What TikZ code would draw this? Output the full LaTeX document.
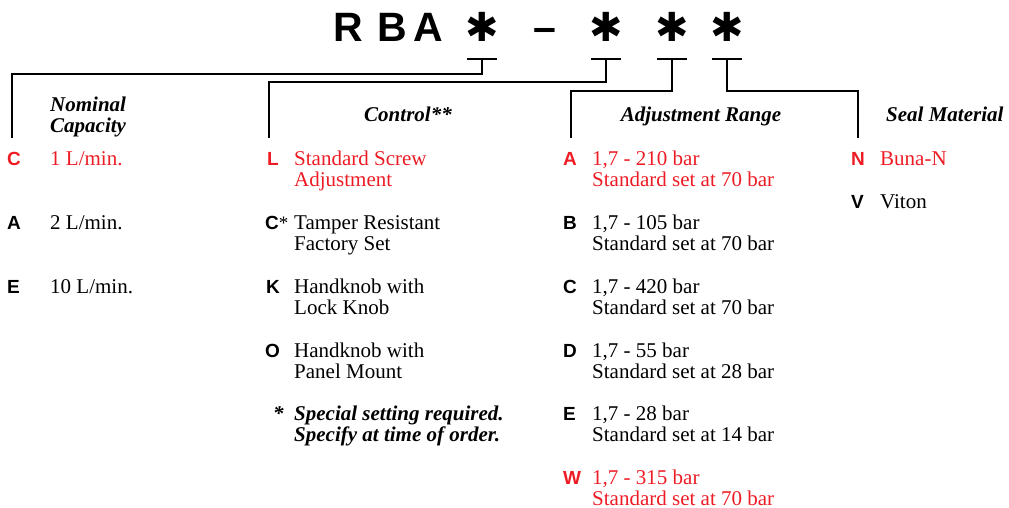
\documentclass[tikz,border=0pt]{standalone}
\usepackage{fontspec}
\setmainfont{Liberation Serif}
\setsansfont{Liberation Sans}
\newfontfamily\dingfont{DejaVu Sans}
\definecolor{optred}{RGB}{237,28,36}

\begin{document}
\begin{tikzpicture}[x=1pt, y=-1pt,
    code/.style={font=\fontsize{41}{41}\selectfont\sffamily\bfseries, inner sep=0pt, anchor=base west},
    star/.style={font=\fontsize{40}{40}\selectfont\dingfont, inner sep=0pt, anchor=base},
    lead/.style={line width=2.8pt},
    head/.style={font=\fontsize{21}{21}\selectfont\bfseries\itshape, inner sep=0pt, anchor=base west, align=left},
    key/.style={font=\fontsize{19}{20}\selectfont\sffamily\bfseries, inner sep=0pt, anchor=base west},
    desc/.style={font=\fontsize{21}{21}\selectfont, inner sep=0pt, anchor=base west, align=left},
    twoline/.style={yshift=-21pt},
    sel/.style={text=optred}]
  \useasboundingbox (0,0) rectangle (1009,508);
  % model code
  \node[code] (r) at (333, 42) {R};
  \node[code] (b) at (377, 42) {B};
  \node[code] (a) at (413, 42) {A};
  \node[star] (star1) at (482, 42) {✱};
  \node[code] (dash) at (533, 42) {–};
  \node[star] (star2) at (606, 42) {✱};
  \node[star] (star3) at (672, 42) {✱};
  \node[star] (star4) at (727, 42) {✱};
  \coordinate (tick1) at (482, 59);
  \coordinate (tick2) at (606, 59);
  \coordinate (tick3) at (672, 59);
  \coordinate (tick4) at (727, 59);
  \coordinate (capcol) at (12, 138);
  \coordinate (ctlcol) at (269, 138);
  \coordinate (adjcol) at (571, 138);
  \coordinate (sealcol) at (858, 138);
  \foreach \t in {tick1, tick2, tick3, tick4}
    \draw[lead] ([xshift=-15pt]\t) -- ([xshift=15pt]\t);
  \draw[lead] (tick1) -- ++(0, 15) -| (capcol);
  \draw[lead] (tick2) -- ++(0, 23) -| (ctlcol);
  \draw[lead] (tick3) -- ++(0, 32) -| (adjcol);
  \draw[lead] (tick4) -- ++(0, 32) -| (sealcol);
  % headings
  \node[head, twoline] (caphead) at (50, 112) {Nominal\\Capacity};
  \node[head, anchor=base] (ctlhead) at (408, 122) {Control**};
  \node[head, anchor=base] (adjhead) at (701, 122) {Adjustment Range};
  \node[head] (sealhead) at (886, 122) {Seal Material};
  % nominal capacity
  \node[key, sel] (capc) at (7, 165) {C};
  \node[desc, sel] (capcd) at (50, 165) {1 L/min.};
  \node[key] (capa) at (7, 229) {A};
  \node[desc] (capad) at (50, 229) {2 L/min.};
  \node[key] (cape) at (7, 293) {E};
  \node[desc] (caped) at (50, 293) {10 L/min.};
  % control
  \node[key, sel] (ctll) at (267, 165) {L};
  \node[desc, sel, twoline] (ctlld) at (294, 165) {Standard Screw\\Adjustment};
  \node[key] (ctlc) at (265, 229) {C{\rmfamily\mdseries*}};
  \node[desc, twoline] (ctlcd) at (294, 229) {Tamper Resistant\\Factory Set};
  \node[key] (ctlk) at (266, 293) {K};
  \node[desc, twoline] (ctlkd) at (294, 293) {Handknob with\\Lock Knob};
  \node[key] (ctlo) at (265, 357) {O};
  \node[desc, twoline] (ctlod) at (294, 357) {Handknob with\\Panel Mount};
  \node[head] (note) at (273, 420) {*};
  \node[head, twoline] (noted) at (294, 420) {Special setting required.\\Specify at time of order.};
  % adjustment range
  \node[key, sel] (adja) at (563, 165) {A};
  \node[desc, sel, twoline] (adjad) at (592, 165) {1,7 - 210 bar\\Standard set at 70 bar};
  \node[key] (adjb) at (563, 229) {B};
  \node[desc, twoline] (adjbd) at (592, 229) {1,7 - 105 bar\\Standard set at 70 bar};
  \node[key] (adjc) at (563, 293) {C};
  \node[desc, twoline] (adjcd) at (592, 293) {1,7 - 420 bar\\Standard set at 70 bar};
  \node[key] (adjd) at (563, 357) {D};
  \node[desc, twoline] (adjdd) at (592, 357) {1,7 - 55 bar\\Standard set at 28 bar};
  \node[key] (adje) at (563, 420) {E};
  \node[desc, twoline] (adjed) at (592, 420) {1,7 - 28 bar\\Standard set at 14 bar};
  \node[key, sel] (adjw) at (563, 484) {W};
  \node[desc, sel, twoline] (adjwd) at (592, 484) {1,7 - 315 bar\\Standard set at 70 bar};
  % seal material
  \node[key, sel] (sealn) at (851, 165) {N};
  \node[desc, sel] (sealnd) at (880, 165) {Buna-N};
  \node[key] (sealv) at (851, 208) {V};
  \node[desc] (sealvd) at (880, 208) {Viton};
\end{tikzpicture}
\end{document}
